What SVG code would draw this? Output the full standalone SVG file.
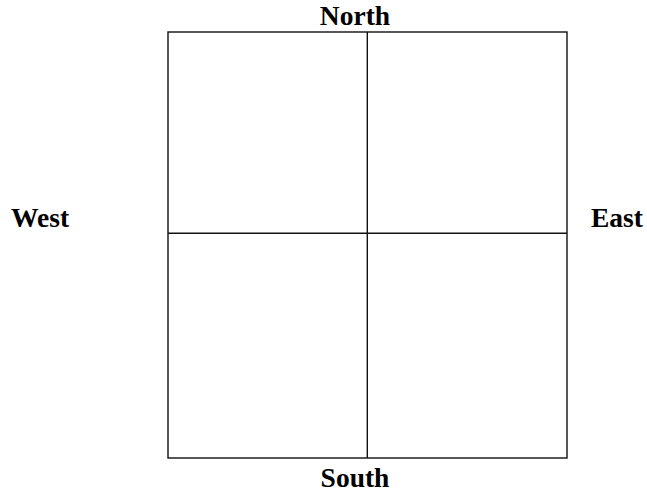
<svg xmlns="http://www.w3.org/2000/svg" width="647" height="492" viewBox="0 0 647 492">
<style>
.g{fill:none;stroke:#111;stroke-width:1.4}
.t{font-family:"Liberation Serif","Times New Roman",serif;font-weight:bold;font-size:27.5px;fill:#000}
</style>
<rect width="647" height="492" fill="#fff"/>
<g id="grid">
<rect class="g" x="168" y="32" width="399" height="426"/>
<line class="g" x1="367.3" y1="32" x2="367.3" y2="458"/>
<line class="g" x1="168" y1="233.3" x2="567" y2="233.3"/>
</g>
<g id="north"><text class="t" x="355" y="24.5" text-anchor="middle">North</text></g>
<g id="south"><text class="t" x="355" y="486.5" text-anchor="middle">South</text></g>
<g id="west"><text class="t" x="11" y="226.7">West</text></g>
<g id="east"><text class="t" x="591" y="226.7">East</text></g>
</svg>
